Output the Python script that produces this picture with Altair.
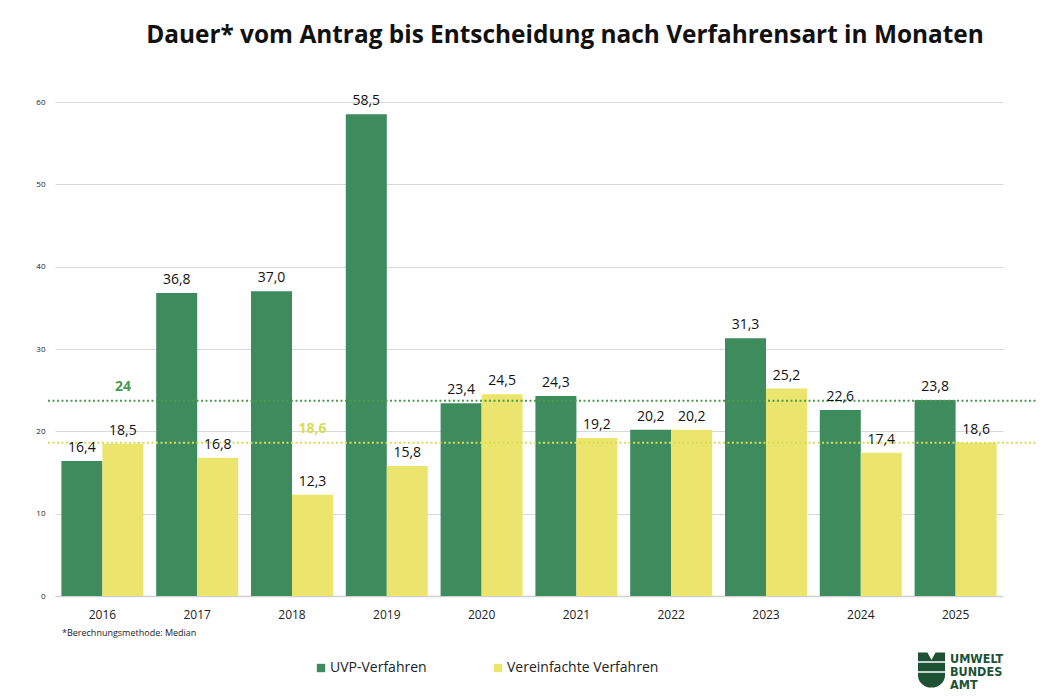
import altair as alt
import pandas as pd

years = ["2016", "2017", "2018", "2019", "2020", "2021", "2022", "2023", "2024", "2025"]
uvp = [16.4, 36.8, 37.0, 58.5, 23.4, 24.3, 20.2, 31.3, 22.6, 23.8]
ver = [18.5, 16.8, 12.3, 15.8, 24.5, 19.2, 20.2, 25.2, 17.4, 18.6]
series = ["UVP-Verfahren", "Vereinfachte Verfahren"]
colors = ["#3e8b5e", "#ece56d"]

ref_values = [23.7, 18.6]
ref_labels = ["24", "18,6"]
ref_years = ["2016", "2018"]
ref_colors = ["#4b9a4c", "#d8dc55"]

rows = []
for y, a, b in zip(years, uvp, ver):
    rows.append({"Jahr": y, "Serie": series[0], "Wert": a, "Label": f"{a:.1f}".replace(".", ",")})
    rows.append({"Jahr": y, "Serie": series[1], "Wert": b, "Label": f"{b:.1f}".replace(".", ",")})
df = pd.DataFrame(rows)

ref_df = pd.DataFrame({
    "Wert": ref_values,
    "Label": ref_labels,
    "Jahr": ref_years,
    "Serie": [series[1], series[1]],
    "Farbe": ref_colors,
})

FONT = "Open Sans"

x_enc = alt.X("Jahr:N", sort=years, title=None,
              scale=alt.Scale(paddingInner=0.135, paddingOuter=0.0675),
              axis=alt.Axis(labelAngle=0, labelFontSize=12, labelColor="#222222", ticks=False,
                            domainColor="#d0d0d0", domainWidth=1.5, labelPadding=13, labelFont=FONT))
y_scale = alt.Scale(domain=[0, 60], nice=False)
y_enc = alt.Y("Wert:Q", scale=y_scale, title=None,
              axis=alt.Axis(values=[0, 10, 20, 30, 40, 50, 60], labelFontSize=8, labelColor="#222222",
                            ticks=False, domain=False, gridColor="#d9d9d9", labelPadding=10, labelFont=FONT))
xo = alt.XOffset("Serie:N", sort=series)

bars = alt.Chart(df).mark_bar().encode(
    x=x_enc, y=y_enc, xOffset=xo,
    color=alt.Color("Serie:N", sort=series, scale=alt.Scale(domain=series, range=colors),
                    legend=alt.Legend(title=None, orient="none", direction="horizontal",
                                      legendX=259, legendY=559, symbolType="square", symbolSize=70,
                                      labelFontSize=14, labelFont=FONT, labelColor="#222222",
                                      labelOffset=2, columnPadding=64, symbolStrokeWidth=0)),
)

labels = alt.Chart(df).mark_text(dy=-13, fontSize=14, font=FONT, color="#111111").encode(
    x=alt.X("Jahr:N", sort=years), y=alt.Y("Wert:Q", scale=y_scale), xOffset=xo, text="Label:N"
)

rules = alt.Chart(ref_df).mark_rule(strokeDash=[2, 2.5], strokeWidth=2).encode(
    y=alt.Y("Wert:Q", scale=y_scale),
    x=alt.value(-7), x2=alt.value(982),
    color=alt.Color("Farbe:N", scale=None),
)

ref_text = alt.Chart(ref_df).mark_text(dy=-14, fontSize=14, fontWeight="bold", font=FONT).encode(
    x=alt.X("Jahr:N", sort=years), xOffset=alt.XOffset("Serie:N", sort=series),
    y=alt.Y("Wert:Q", scale=y_scale), text="Label:N",
    color=alt.Color("Farbe:N", scale=None),
)

footnote = alt.Chart(pd.DataFrame({"t": ["*Berechnungsmethode: Median"]})).mark_text(
    align="left", baseline="middle", fontSize=9, font=FONT, color="#222222"
).encode(x=alt.value(7), y=alt.value(531), text="t:N")

logo_lines = pd.DataFrame({"t": ["UMWELT", "BUNDES", "AMT"], "yy": [557, 570, 583]})
logo_text = alt.Chart(logo_lines).mark_text(
    align="left", baseline="middle", fontSize=12.5, fontWeight="bold",
    font="Liberation Sans Narrow, DejaVu Sans Condensed, Roboto",
    color="#1d5234"
).encode(x=alt.value(895), y=alt.Y("yy:Q", scale=None), text="t:N")

logo_icon = alt.Chart(pd.DataFrame({"k": [1]})).mark_point(
    shape="M-1,-1.3 L-0.3,-1.3 L0,-0.75 L0.3,-1.3 L1,-1.3 L1,0.4 A1,0.9 0 0 1 -1,0.4 Z",
    size=729, filled=True, color="#1d5234", opacity=1
).encode(x=alt.value(876.5), y=alt.value(568))

logo_stripes = alt.Chart(pd.DataFrame({"yy": [560, 570]})).mark_rule(color="white", strokeWidth=1.5).encode(
    x=alt.value(860), x2=alt.value(893), y=alt.Y("yy:Q", scale=None)
)

chart = alt.layer(bars, rules, labels, ref_text, footnote, logo_icon, logo_stripes, logo_text).properties(
    width=948, height=494,
    title=alt.Title("Dauer* vom Antrag bis Entscheidung nach Verfahrensart in Monaten",
                    fontSize=24.4, fontWeight="bold", font=FONT, color="#111111",
                    anchor="middle", dx=36, offset=46),
    autosize=alt.AutoSizeParams(type="none"),
    padding={"left": 55, "top": 102, "right": 57, "bottom": 104},
).configure(background="white", view=alt.ViewConfig(stroke="transparent", strokeWidth=0))

chart.save("out.html", embed_options={"renderer": "svg", "actions": False})
